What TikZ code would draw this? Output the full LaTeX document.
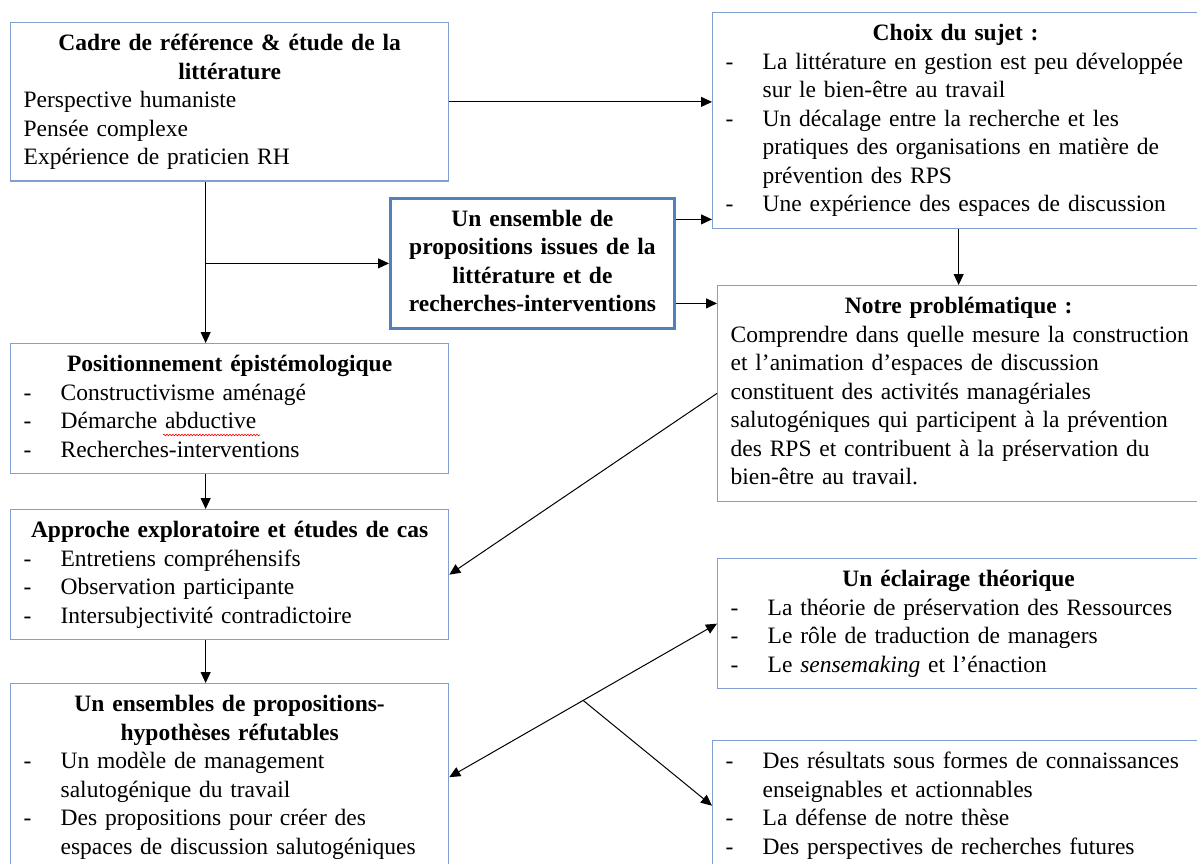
\documentclass[tikz,border=0pt]{standalone}
\usepackage{fontspec}
\setmainfont{Liberation Serif}
\usetikzlibrary{arrows.meta,decorations.pathmorphing}
\setlength{\parindent}{0pt}
\definecolor{boxline}{RGB}{128,160,212}
\definecolor{keyline}{RGB}{79,129,189}
\newcommand{\hd}[1]{{\centering\bfseries\strut #1\strut\par}}
\newcommand{\tl}[1]{\noindent\mbox{\strut #1\strut}\par}
\newcommand{\itm}[1]{\noindent\makebox[37pt][l]{-}\mbox{\strut #1\strut}\par}
\newcommand{\cont}[1]{\noindent\hspace*{37pt}\mbox{\strut #1\strut}\par}

\tikzset{
  box/.style={draw=boxline, line width=1.3pt, anchor=north west, inner xsep=13pt, inner ysep=8pt,
    font=\fontsize{23.5}{28.5}\selectfont, execute at begin node=\raggedright},
  keybox/.style={box, draw=keyline, line width=2.8pt},
  flow/.style={line width=1pt, -{Triangle[length=11pt,width=10pt]}},
  both/.style={line width=1pt, {Triangle[length=11pt,width=10pt]}-{Triangle[length=11pt,width=10pt]}}
}

\begin{document}
\begin{tikzpicture}[x=1pt,y=-1pt]
  \useasboundingbox (0,0) rectangle (1197,864);

  \node[box, text width=412pt] (cadre) at (10,22) {%
    \hd{Cadre de référence \& étude de la}
    \hd{littérature}
    \tl{Perspective humaniste}
    \tl{Pensée complexe}
    \tl{Expérience de praticien RH}};

  \node[box, text width=460pt] (choix) at (712,12) {%
    \hd{Choix du sujet :}
    \itm{La littérature en gestion est peu développée}
    \cont{sur le bien-être au travail}
    \itm{Un décalage entre la recherche et les}
    \cont{pratiques des organisations en matière de}
    \cont{prévention des RPS}
    \itm{Une expérience des espaces de discussion}};

  \node[keybox, text width=258pt] (ens) at (389,197) {%
    \hd{Un ensemble de}
    \hd{propositions issues de la}
    \hd{littérature et de}
    \hd{recherches-interventions}};

  \node[box, text width=456pt] (notre) at (717,285) {%
    \hd{Notre problématique :}
    \tl{Comprendre dans quelle mesure la construction}
    \tl{et l’animation d’espaces de discussion}
    \tl{constituent des activités managériales}
    \tl{salutogéniques qui participent à la prévention}
    \tl{des RPS et contribuent à la préservation du}
    \tl{bien-être au travail.}};

  \node[box, text width=412pt] (pos) at (10,343) {%
    \hd{Positionnement épistémologique}
    \itm{Constructivisme aménagé}
    \itm{Démarche abductive}
    \itm{Recherches-interventions}};

  \node[box, text width=412pt] (appr) at (10,509) {%
    \hd{Approche exploratoire et études de cas}
    \itm{Entretiens compréhensifs}
    \itm{Observation participante}
    \itm{Intersubjectivité contradictoire}};

  \node[box, text width=412pt] (hyp) at (10,683) {%
    \hd{Un ensembles de propositions-}
    \hd{hypothèses réfutables}
    \itm{Un modèle de management}
    \cont{salutogénique du travail}
    \itm{Des propositions pour créer des}
    \cont{espaces de discussion salutogéniques}};

  \node[box, text width=456pt] (ecl) at (717,558) {%
    \hd{Un éclairage théorique}
    \itm{La théorie de préservation des Ressources}
    \itm{Le rôle de traduction de managers}
    \itm{Le \textit{sensemaking} et l’énaction}};

  \node[box, text width=461pt] (res) at (712,740) {%
    \itm{Des résultats sous formes de connaissances}
    \cont{enseignables et actionnables}
    \itm{La défense de notre thèse}
    \itm{Des perspectives de recherches futures}};

  \draw[red, line width=0.6pt, decorate, decoration={snake, amplitude=0.8pt, segment length=3pt}]
    (163,435) -- (260,435);

  \coordinate (stem) at ([xshift=-24pt]cadre.south);
  \draw[flow] (cadre.east) -- (cadre.east -| choix.west);
  \draw[flow] ([yshift=44pt]ens.east) -- ([yshift=44pt]ens.east -| choix.west);
  \draw[flow] ([yshift=-40pt]ens.east) -- ([yshift=-40pt]ens.east -| notre.west);
  \draw[flow] (notre.north |- choix.south) -- (notre.north);
  \draw[flow] (stem) -- (stem |- pos.north);
  \draw[flow] (stem |- ens.west) -- (ens.west);
  \draw[flow] (stem |- pos.south) -- (stem |- appr.north);
  \draw[flow] (stem |- appr.south) -- (stem |- hyp.north);
  \draw[flow] (notre.west) -- (appr.east);
  \draw[both] (hyp.east) -- coordinate (fork) (ecl.west);
  \draw[flow] (fork) -- (res.west);
\end{tikzpicture}
\end{document}
